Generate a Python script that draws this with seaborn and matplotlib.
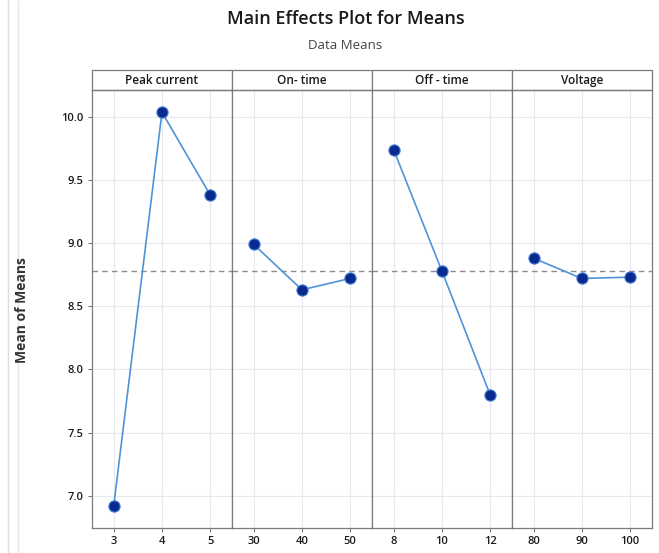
import numpy as np
import pandas as pd
import matplotlib.pyplot as plt
import seaborn as sns
from matplotlib.patches import Rectangle

# Main effects plot data
factors = ['Peak current', 'On- time', 'Off - time', 'Voltage']
levels = [['3', '4', '5'], ['30', '40', '50'], ['8', '10', '12'], ['80', '90', '100']]
peak_current = [6.92, 10.035, 9.38]
on_time = [8.99, 8.63, 8.72]
off_time = [9.74, 8.78, 7.80]
voltage = [8.88, 8.72, 8.73]
means = [peak_current, on_time, off_time, voltage]
grand_mean = 8.78

sns.set_style('white')
plt.rcParams['font.family'] = ['Open Sans', 'DejaVu Sans']

fig, axes = plt.subplots(1, 4, figsize=(6.59, 5.53), dpi=100, sharey=True)
fig.subplots_adjust(left=0.1396, right=0.989, bottom=0.0452, top=0.837, wspace=0)

line_col = '#4f93d8'
dot_col = '#0a2a8f'

for i, ax in enumerate(axes):
    df = pd.DataFrame({'level': levels[i], 'mean': means[i]})
    df['pos'] = np.arange(len(df))
    ax.grid(True, color='#e6e9ee', linewidth=0.8)
    ax.set_axisbelow(True)
    ax.axhline(grand_mean, color='#8c8c8c', linestyle=(0, (4, 3)), linewidth=1.0, zorder=1)
    sns.lineplot(data=df, x='pos', y='mean', ax=ax, color=line_col, linewidth=1.2, zorder=2)
    sns.scatterplot(data=df, x='pos', y='mean', ax=ax, color=dot_col, s=65,
                    edgecolor='#3f7fd0', linewidth=0.8, zorder=3)
    ax.set_xlim(-0.45, 2.45)
    ax.set_ylim(6.745, 10.21)
    ax.set_xticks(df['pos'])
    ax.set_xticklabels(df['level'])
    ax.set_xlabel('')
    ax.set_ylabel('')
    for sp in ax.spines.values():
        sp.set_color('#7a7a7a')
        sp.set_linewidth(0.9)
    ax.tick_params(axis='both', length=3, width=0.8, color='#7a7a7a', labelsize=8,
                   labelcolor='#1a1a1a', pad=3, bottom=True, left=(i == 0))
    for lab in ax.get_xticklabels() + ax.get_yticklabels():
        lab.set_fontweight('semibold')
    # header strip
    h = 0.0457
    ax.add_patch(Rectangle((0, 1), 1, h, transform=ax.transAxes, clip_on=False,
                           facecolor='white', edgecolor='#7a7a7a', linewidth=0.9))
    ax.text(0.5, 1 + h / 2, factors[i], transform=ax.transAxes, ha='center', va='center',
            fontsize=8.5, fontweight='semibold', color='#1a1a1a')

axes[0].set_yticks([7.0, 7.5, 8.0, 8.5, 9.0, 9.5, 10.0])
axes[0].set_yticklabels(['7.0', '7.5', '8.0', '8.5', '9.0', '9.5', '10.0'], fontweight='semibold')

fig.text(0.033, 0.44, 'Mean of Means', rotation=90, ha='center', va='center',
         fontsize=10, fontweight='bold', color='#333333')
fig.text(0.524, 0.965, 'Main Effects Plot for Means', ha='center', va='center',
         fontsize=13, fontweight='semibold', color='#1a1a1a')
fig.text(0.524, 0.918, 'Data Means', ha='center', va='center', fontsize=9.5, color='#444444')

# faint border lines at the left edge of the screenshot
fig.add_artist(plt.Line2D([0.012, 0.012], [0, 1], color='#dddddd', linewidth=1))
fig.add_artist(plt.Line2D([0.028, 0.028], [0, 1], color='#e6e6e6', linewidth=1))

fig.savefig('out.png', dpi=100)
